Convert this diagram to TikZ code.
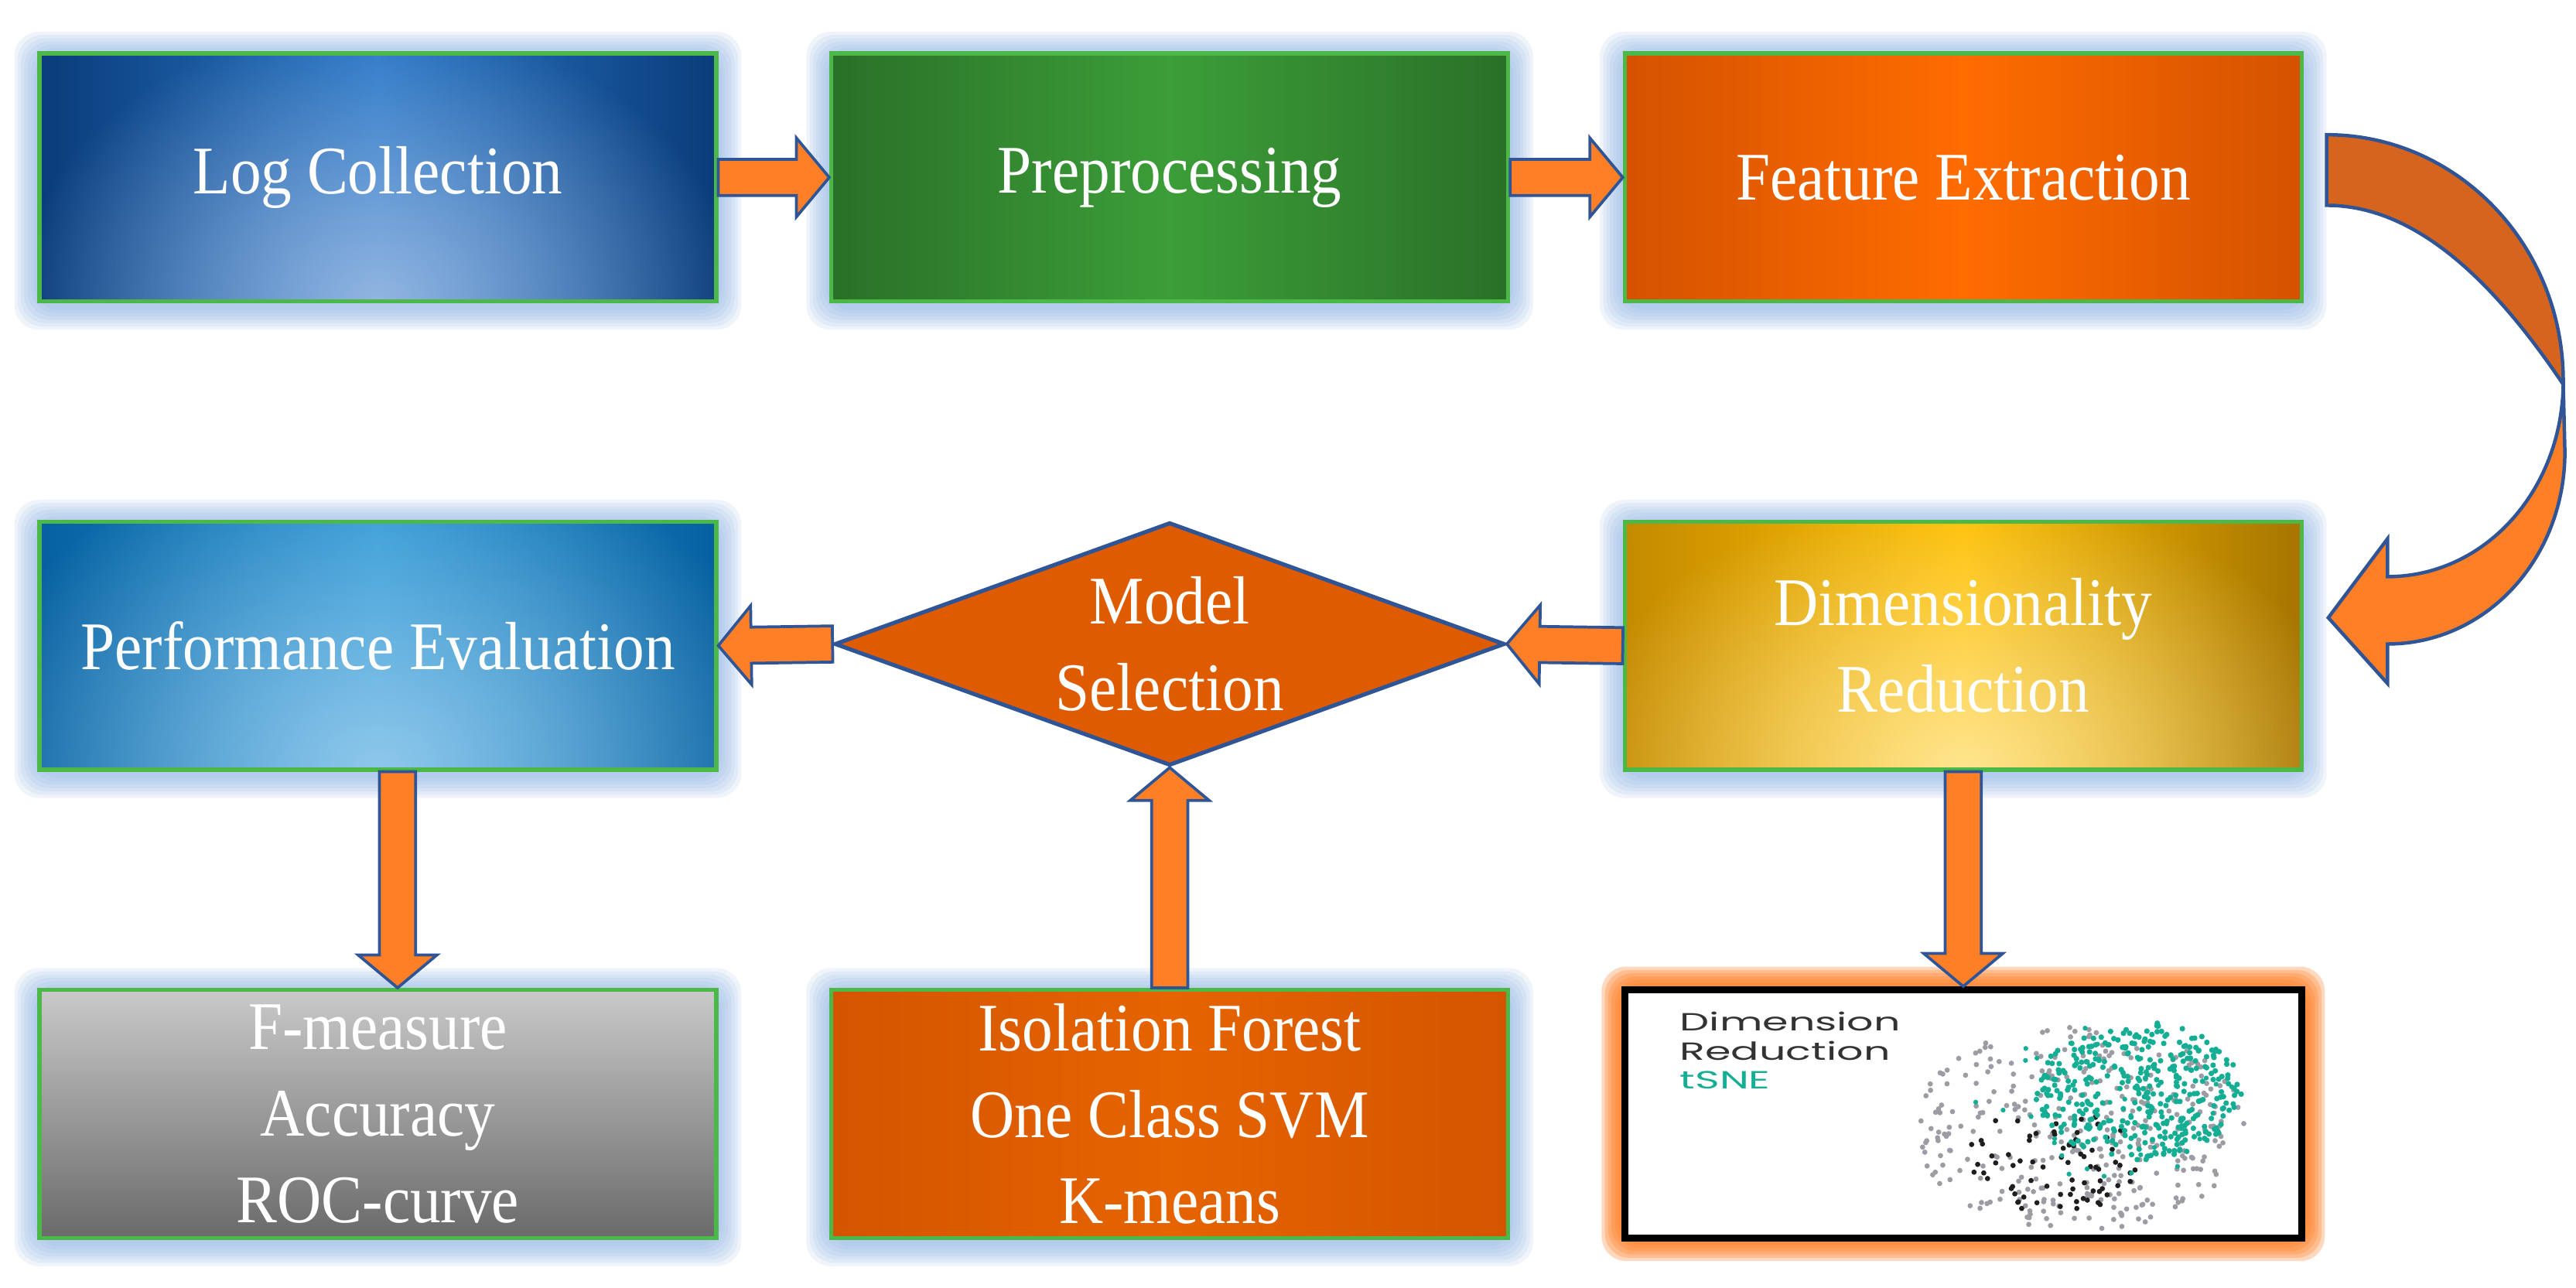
\documentclass[tikz,border=0pt]{standalone}
\usepackage{fontspec}
\setmainfont[FakeStretch=0.9]{Liberation Serif}
\newfontfamily\geofont[FakeStretch=1.68]{Poppins}
\usetikzlibrary{shapes.geometric,calc,backgrounds,fadings}

\definecolor{boxgreen}{HTML}{4CB848}
\definecolor{glowblue}{HTML}{8DB3E2}
\definecolor{arroworange}{HTML}{FF7F27}
\definecolor{arrowblue}{HTML}{2F5597}
\definecolor{curvedark}{HTML}{D5641E}
\definecolor{lcdark}{HTML}{0A3C7A}
\definecolor{lcmid}{HTML}{2A78C8}
\definecolor{lcglow}{HTML}{9DBCE4}
\definecolor{predark}{HTML}{2A7028}
\definecolor{premid}{HTML}{3C9E38}
\definecolor{fedark}{HTML}{D45200}
\definecolor{femid}{HTML}{FF6C00}
\definecolor{pedark}{HTML}{0660A0}
\definecolor{pemid}{HTML}{2B97D4}
\definecolor{peglow}{HTML}{9ACDEE}
\definecolor{drleft}{HTML}{C48A00}
\definecolor{drmid}{HTML}{FFC000}
\definecolor{drright}{HTML}{A67500}
\definecolor{drglow}{HTML}{FFE9A0}
\definecolor{fmtop}{HTML}{C9C9C9}
\definecolor{fmbottom}{HTML}{6A6A6A}
\definecolor{isodark}{HTML}{D45400}
\definecolor{isomid}{HTML}{E56400}
\definecolor{msfill}{HTML}{DF5B00}
\definecolor{tsneteal}{HTML}{14AE94}
\definecolor{tsnegray}{HTML}{9C9CA4}
\definecolor{tsneblack}{HTML}{1E1E1E}

\tikzfading[name=glowfade, inner color=transparent!10, outer color=transparent!100]

\tikzstyle{stage}=[rectangle,draw=boxgreen,line width=0.7pt,minimum width=41.2mm,minimum height=15.1mm,inner sep=0pt,align=center,text=white,font=\fontsize{11.8}{15}\selectfont]
\tikzstyle{bluestage}=[stage,left color=lcdark,right color=lcdark,middle color=lcmid,path picture={\fill[lcglow,path fading=glowfade,fit fading=true] (path picture bounding box.south) ellipse (220 and 170);}]
\tikzstyle{greenstage}=[stage,left color=predark,right color=predark,middle color=premid]
\tikzstyle{orangestage}=[stage,left color=fedark,right color=fedark,middle color=femid]
\tikzstyle{lightbluestage}=[stage,left color=pedark,right color=pedark,middle color=pemid,path picture={\fill[peglow,path fading=glowfade,fit fading=true] (path picture bounding box.south) ellipse (260 and 200);}]
\tikzstyle{goldstage}=[stage,left color=drleft,right color=drright,middle color=drmid,path picture={\fill[drglow,path fading=glowfade,fit fading=true] (path picture bounding box.south) ellipse (240 and 170);}]
\tikzstyle{graystage}=[stage,top color=fmtop,bottom color=fmbottom]
\tikzstyle{modelstage}=[stage,left color=isodark,right color=isodark,middle color=isomid]
\tikzstyle{decision}=[diamond,draw=arrowblue,line width=0.7pt,fill=msfill,minimum width=40.8mm,minimum height=14.8mm,inner sep=0pt]
\tikzstyle{tsnebox}=[rectangle,draw=black,line width=1.2pt,fill=white,minimum width=41.2mm,minimum height=15.1mm]
\tikzstyle{flowarrow}=[fill=arroworange,draw=arrowblue,line width=0.5pt,line join=miter]

% block arrow from #1 to #2
\newcommand{\flowarrow}[2]{%
  \draw[flowarrow] ($(#1)!1.1mm!90:(#2)$)
    -- ($($(#2)!2mm!(#1)$)!1.1mm!90:(#2)$)
    -- ($($(#2)!2mm!(#1)$)!2.4mm!90:(#2)$)
    -- (#2)
    -- ($($(#2)!2mm!(#1)$)!2.4mm!-90:(#2)$)
    -- ($($(#2)!2mm!(#1)$)!1.1mm!-90:(#2)$)
    -- ($(#1)!1.1mm!-90:(#2)$) -- cycle;}

\begin{document}
\begin{tikzpicture}[x=0.1mm,y=-0.1mm]
    \useasboundingbox (0,0) rectangle (1568,784);
    \node[bluestage] (lc) at (230,108) {Log Collection};
    \node[greenstage] (pre) at (712,108) {Preprocessing};
    \node[orangestage] (fe) at (1195,108) {Feature Extraction};
    \node[lightbluestage] (pe) at (230,393) {Performance Evaluation};
    \node[decision,label={[text=white,align=center,font=\fontsize{11.8}{15}\selectfont]center:Model\\Selection}] (ms) at (712,392) {};
    \node[goldstage] (dr) at (1195,393) {Dimensionality\\Reduction};
    \node[graystage] (fm) at (230,678) {F-measure\\Accuracy\\ROC-curve};
    \node[modelstage] (iso) at (712,678) {Isolation Forest\\One Class SVM\\K-means};
    \node[tsnebox] (tsne) at (1195,678) {};

    % tSNE picture
    \node[anchor=north west,align=left,inner sep=0pt,text=black!80,font=\geofont\fontsize{4.3}{5}\selectfont] (tsnetxt) at ($(tsne.north west)+(35,15)$) {Dimension\\Reduction\\\textcolor{tsneteal}{tSNE}};
    \begin{scope}[shift={(tsne.center)}]
      \pgfmathsetseed{4242}
      \foreach \i in {1,...,340}{
        \pgfmathsetmacro\ang{360*rnd}
        \pgfmathsetmacro\rad{sqrt(rnd)}
        \fill[tsnegray] ({70+105*\rad*cos(\ang)},{9+62*\rad*sin(\ang)}) circle (1.6);
      }
      \foreach \i in {1,...,75}{
        \pgfmathsetmacro\ang{360*rnd}
        \pgfmathsetmacro\rad{sqrt(rnd)}
        \fill[tsneblack] ({55+52*\rad*cos(\ang)},{27+34*\rad*sin(\ang)}) circle (1.6);
      }
      \foreach \i in {1,...,40}{
        \pgfmathsetmacro\ang{360*rnd}
        \pgfmathsetmacro\rad{sqrt(rnd)}
        \fill[tsneteal] ({85+85*\rad*cos(\ang)},{-10+50*\rad*sin(\ang)}) circle (1.5);
      }
      \foreach \i in {1,...,380}{
        \pgfmathsetmacro\ang{360*rnd}
        \pgfmathsetmacro\rad{sqrt(rnd)}
        \fill[tsneteal] ({107+63*\rad*cos(\ang)},{-14+42*\rad*sin(\ang)}) circle (1.7);
      }
    \end{scope}

    % glow round the boxes
    \begin{scope}[on background layer]
      \foreach \nd in {lc,pre,fe,pe,dr,fm,iso}
        \foreach \g in {2,4,...,14}
          \fill[glowblue,opacity=0.14,rounded corners=1.5mm]
            ($(\nd.north west)+(-\g,-\g+2)$) rectangle ($(\nd.south east)+(\g,\g+2)$);
      \foreach \g in {2,4,...,12}
        \fill[arroworange,opacity=0.3,rounded corners=1.5mm]
          ($(tsne.north west)+(-\g,-\g)$) rectangle ($(tsne.south east)+(\g,\g)$);
    \end{scope}

    \coordinate (pe-out) at ($(pe.south)+(12,0)$);
    \coordinate (fm-in) at ($(fm.north)+(12,0)$);
    \flowarrow{lc.east}{pre.west}
    \flowarrow{pre.east}{fe.west}
    \flowarrow{dr.west}{ms.east}
    \flowarrow{ms.west}{pe.east}
    \flowarrow{pe-out}{fm-in}
    \flowarrow{iso.north}{ms.south}
    \flowarrow{dr.south}{tsne.north}

    % curved arrow from Feature Extraction down to Dimensionality Reduction
    \begin{scope}[shift={(fe.east)}]
      \draw[fill=curvedark,draw=arrowblue,line width=0.6pt]
        (14,-26) .. controls (94,-26) and (159,42) .. (158,126)
        .. controls (109,53) and (62,17) .. (14,17) -- cycle;
      \draw[fill=arroworange,draw=arrowblue,line width=0.6pt,line join=miter]
        (158,126) -- (159,167) .. controls (159,232) and (111,284) .. (51,284)
        -- (51,308) -- (15,268) -- (51,220) -- (51,243)
        .. controls (110,243) and (157,191) .. (158,126) -- cycle;
    \end{scope}
\end{tikzpicture}
\end{document}
